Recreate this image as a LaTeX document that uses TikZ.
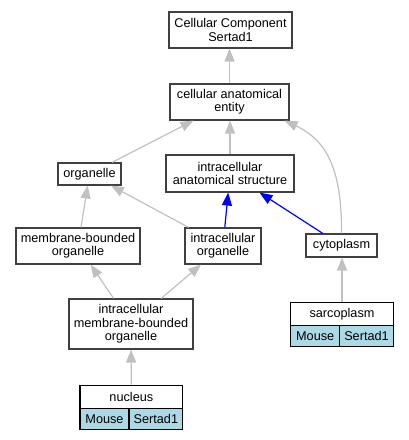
\documentclass[tikz,border=0pt]{standalone}
\usepackage{fontspec}
\setmainfont{Liberation Sans}
\usetikzlibrary{arrows.meta}
\newcommand\figfont{\fontsize{12.7bp}{13.3bp}\selectfont}
\definecolor{boxc}{HTML}{404040}
\definecolor{edgec}{HTML}{C0C0C0}
\definecolor{cellc}{HTML}{ADD8E6}
\tikzset{
  box/.style={draw=boxc, line width=1.1bp, fill=white, inner sep=0pt, align=center, font=\figfont},
  cell/.style={draw=black, line width=1.1bp, fill=cellc, inner sep=0pt, align=center, font=\figfont},
  gedge/.style={draw=edgec, line width=1.2bp, -{Triangle[length=13bp,width=10bp]}},
  bedge/.style={draw=blue, line width=1.2bp, -{Triangle[length=13bp,width=10bp]}},
}
\begin{document}
\begin{tikzpicture}[x=1bp,y=-1bp]
\useasboundingbox (0,0) rectangle (408,440);
\node[box, minimum width=123bp, minimum height=36bp] (cc) at (230.5,30) {Cellular Component\\Sertad1};
\node[box, minimum width=119bp, minimum height=36bp] (cae) at (229.5,102) {cellular anatomical\\entity};
\node[box, minimum width=63bp, minimum height=22bp] (org) at (89.5,174) {organelle};
\node[box, minimum width=128bp, minimum height=37bp] (ias) at (230,173.5) {intracellular\\anatomical structure};
\node[box, minimum width=124bp, minimum height=36bp] (mbo) at (78,246) {membrane-bounded\\organelle};
\node[box, minimum width=76bp, minimum height=36bp] (io) at (223,246) {intracellular\\organelle};
\node[box, minimum width=71bp, minimum height=23bp] (cyto) at (341.5,245.5) {cytoplasm};
\node[box, minimum width=124bp, minimum height=50bp] (imbo) at (131,324) {intracellular\\membrane-bounded\\organelle};
% sarcoplasm table
\node[box, draw=black, minimum width=102.6bp, minimum height=22.6bp] (sarc) at (342,314) {sarcoplasm};
\node[cell, minimum width=49bp, minimum height=20.7bp] (sarcm) at (315.2,335.7) {Mouse};
\node[cell, minimum width=53.6bp, minimum height=20.7bp] (sarcs) at (366.5,335.7) {Sertad1};
% nucleus table
\node[box, draw=black, minimum width=102.7bp, minimum height=23.3bp] (nuc) at (131.35,396.7) {nucleus};
\node[cell, minimum width=49bp, minimum height=21bp] (nucm) at (104.5,418.8) {Mouse};
\node[cell, minimum width=53.7bp, minimum height=21bp] (nucs) at (155.85,418.8) {Sertad1};
% edges
\draw[gedge] (cae.north) -- (cae.north |- cc.south);
\draw[gedge] (org) -- (cae);
\draw[gedge] (ias.north) -- (ias.north |- cae.south);
\draw[gedge] (cyto.north) .. controls (342,168) and (326,140) .. ([xshift=-5bp]cae.south east);
\draw[gedge] (mbo) -- (org);
\draw[gedge] (io) -- (org);
\draw[bedge] (io) -- (ias);
\draw[bedge] (cyto) -- (ias);
\draw[gedge] (imbo) -- (mbo);
\draw[gedge] (imbo) -- (io);
\draw[gedge] (nuc.north) -- (imbo.south);
\draw[gedge] (sarc.north) -- (sarc.north |- cyto.south);
\end{tikzpicture}
\end{document}
